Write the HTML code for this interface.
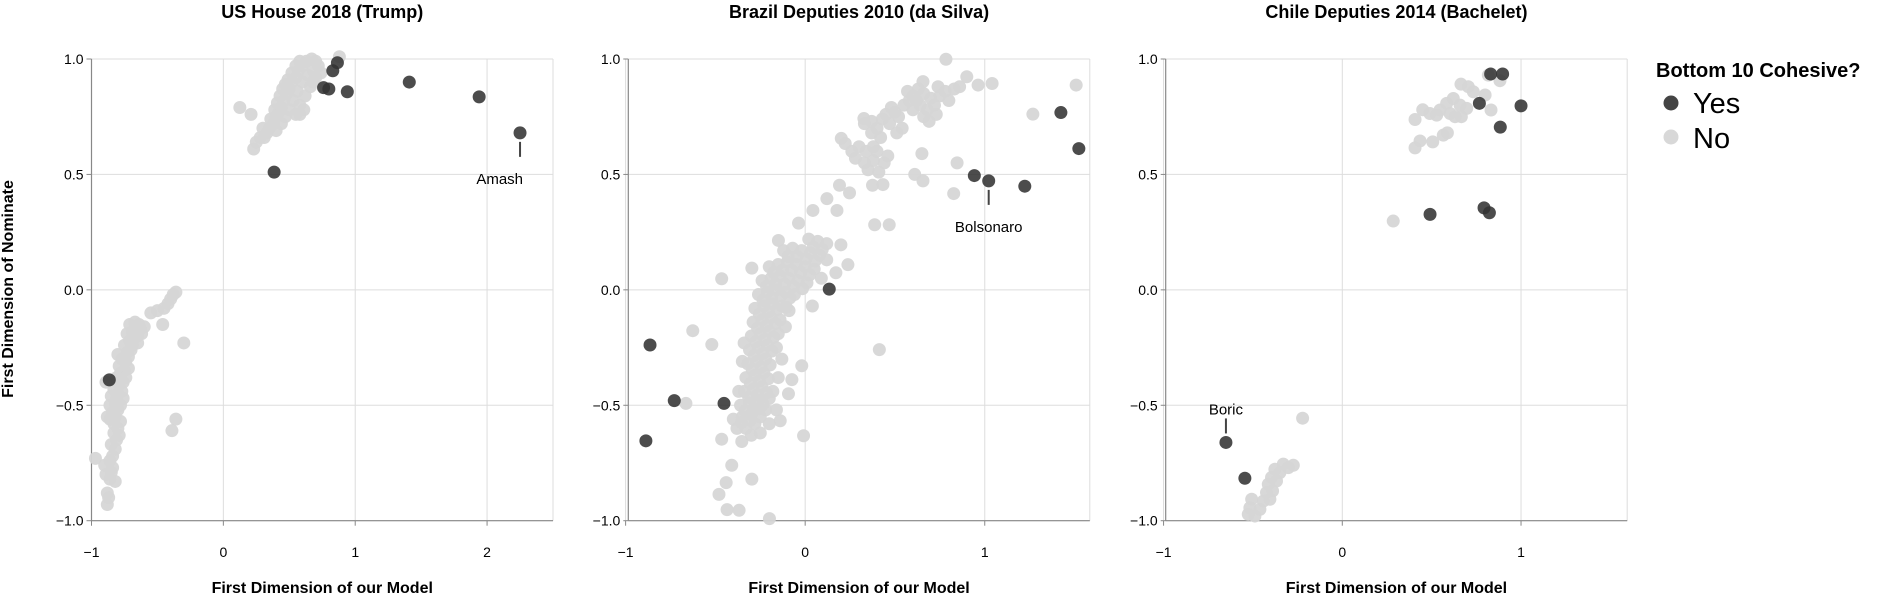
<!DOCTYPE html>
<html><head><meta charset="utf-8">
<style>
html,body{margin:0;padding:0;background:#fff;}
svg{display:block;font-family:"Liberation Sans",Arial,sans-serif;}
</style></head>
<body>
<svg id="chart" width="1892" height="596" viewBox="0 0 1892 596" xmlns="http://www.w3.org/2000/svg">
  <text x="0" y="0" transform="translate(13,289) rotate(-90)" text-anchor="middle" font-size="16" font-weight="bold" fill="#000">First Dimension of Nominate</text>
  <g>
    <text x="1656" y="77" font-size="20" font-weight="bold" fill="#000">Bottom 10 Cohesive?</text>
    <circle cx="1671" cy="103" r="7.5" fill="#444"/>
    <text x="1693" y="113" font-size="29" fill="#000">Yes</text>
    <circle cx="1671" cy="137" r="7.5" fill="#d8d8d8"/>
    <text x="1693" y="148" font-size="29" fill="#000">No</text>
  </g>
</svg>
<script>
// ---- Data ----
const panelTitles = ["US House 2018 (Trump)", "Brazil Deputies 2010 (da Silva)", "Chile Deputies 2014 (Bachelet)"];
const xTicks1 = [-1, 0, 1, 2];
const xTicks2 = [-1, 0, 1];
const xTicks3 = [-1, 0, 1];
const yTicks = [-1.0, -0.5, 0.0, 0.5, 1.0];
const yTickLabels = ["\u22121.0", "\u22120.5", "0.0", "0.5", "1.0"];

const grayUS = [[-0.88,-0.93],[-0.87,-0.90],[-0.88,-0.88],[-0.86,-0.82],[-0.85,-0.79],[-0.89,-0.80],[-0.97,-0.73],[-0.90,-0.76],[-0.86,-0.74],[-0.84,-0.72],[-0.82,-0.69],[-0.85,-0.67],[-0.81,-0.65],[-0.79,-0.63],[-0.80,-0.60],[-0.83,-0.58],[-0.86,-0.56],[-0.88,-0.55],[-0.84,-0.53],[-0.80,-0.52],[-0.86,-0.50],[-0.82,-0.49],[-0.78,-0.50],[-0.85,-0.46],[-0.80,-0.45],[-0.77,-0.44],[-0.83,-0.43],[-0.79,-0.41],[-0.76,-0.40],[-0.89,-0.40],[-0.81,-0.38],[-0.78,-0.36],[-0.75,-0.35],[-0.79,-0.33],[-0.74,-0.31],[-0.77,-0.30],[-0.80,-0.28],[-0.73,-0.27],[-0.70,-0.26],[-0.75,-0.24],[-0.71,-0.22],[-0.68,-0.21],[-0.73,-0.19],[-0.69,-0.18],[-0.66,-0.17],[-0.71,-0.15],[-0.67,-0.14],[-0.64,-0.15],[-0.60,-0.16],[-0.55,-0.10],[-0.50,-0.09],[-0.45,-0.08],[-0.42,-0.06],[-0.40,-0.04],[-0.38,-0.02],[-0.36,-0.01],[-0.46,-0.15],[-0.30,-0.23],[-0.36,-0.56],[-0.39,-0.61],[-0.65,-0.20],[-0.62,-0.19],[-0.72,-0.34],[-0.76,-0.47],[-0.83,-0.62],[-0.84,-0.77],[-0.82,-0.83],[-0.82,-0.55],[-0.78,-0.57],[-0.74,-0.38],[-0.72,-0.29],[-0.69,-0.24],[-0.65,-0.23],[-0.63,-0.17],[-0.81,-0.47],
[0.23,0.61],[0.25,0.64],[0.28,0.66],[0.31,0.66],[0.33,0.68],[0.30,0.70],[0.35,0.70],[0.38,0.72],[0.36,0.74],[0.40,0.75],[0.42,0.77],[0.39,0.78],[0.44,0.79],[0.41,0.81],[0.46,0.82],[0.43,0.84],[0.48,0.85],[0.45,0.87],[0.50,0.87],[0.47,0.89],[0.52,0.90],[0.49,0.91],[0.55,0.92],[0.52,0.94],[0.57,0.95],[0.55,0.97],[0.60,0.97],[0.58,0.99],[0.63,0.99],[0.67,1.0],[0.70,0.99],[0.72,0.97],[0.68,0.95],[0.64,0.93],[0.60,0.90],[0.56,0.86],[0.53,0.82],[0.50,0.78],[0.47,0.75],[0.44,0.72],[0.40,0.69],[0.58,0.80],[0.55,0.76],[0.62,0.84],[0.66,0.88],[0.70,0.92],[0.125,0.79],[0.21,0.76],[0.88,1.01],[0.58,0.76],[0.61,0.78],[0.74,0.94],[0.68,0.90]];
const darkUS = [[0.865,0.984],[0.83,0.949],[0.76,0.876],[0.80,0.870],[0.94,0.858],[1.41,0.90],[1.94,0.836],[2.25,0.68],[0.385,0.51],[-0.865,-0.39]];

const grayBR = [[0.784,0.999],[0.656,0.902],[0.90,0.923],[0.963,0.887],[1.041,0.894],[1.509,0.887],[1.268,0.761],[0.846,0.55],[0.827,0.417],[0.65,0.59],[0.61,0.50],[0.656,0.472],[0.387,0.282],[0.468,0.282],[0.413,-0.259],[-0.009,-0.632],[-0.019,-0.329],[-0.074,-0.389],[-0.093,-0.45],[-0.139,-0.567],[-0.465,0.048],[-0.626,-0.177],[-0.520,-0.237],[-0.664,-0.492],[-0.465,-0.647],[-0.353,-0.657],[-0.409,-0.76],[-0.297,-0.82],[-0.44,-0.835],[-0.48,-0.886],[-0.435,-0.952],[-0.368,-0.955],[-0.199,-0.991],[0.238,0.109],[0.171,0.074],[0.199,0.195],[0.043,0.344],[-0.037,0.289],[-0.149,0.214],[-0.297,0.094],[0.121,0.395],[0.177,0.344],[0.191,0.453],[0.247,0.42],[0.375,0.453],[0.433,0.456],[0.201,0.656],[0.223,0.634],[0.327,0.742],
[-0.38,-0.60],[-0.33,-0.60],[-0.28,-0.58],[-0.40,-0.56],[-0.35,-0.55],[-0.30,-0.54],[-0.25,-0.55],[-0.22,-0.52],[-0.36,-0.50],[-0.31,-0.49],[-0.26,-0.48],[-0.20,-0.47],[-0.34,-0.44],[-0.29,-0.43],[-0.24,-0.42],[-0.18,-0.44],[-0.33,-0.38],[-0.28,-0.37],[-0.23,-0.36],[-0.32,-0.32],[-0.27,-0.31],[-0.22,-0.30],[-0.31,-0.26],[-0.26,-0.25],[-0.21,-0.24],[-0.16,-0.25],[-0.30,-0.20],[-0.25,-0.19],[-0.20,-0.18],[-0.15,-0.19],[-0.29,-0.14],[-0.24,-0.13],[-0.19,-0.12],[-0.14,-0.13],[-0.28,-0.08],[-0.23,-0.07],[-0.18,-0.06],[-0.13,-0.07],[-0.09,-0.09],[-0.26,-0.02],[-0.21,-0.01],[-0.16,0.0],[-0.11,-0.01],[-0.06,-0.02],[-0.24,0.04],[-0.19,0.05],[-0.14,0.06],[-0.09,0.05],[-0.04,0.04],[0.01,0.03],[-0.20,0.10],[-0.15,0.11],[-0.10,0.12],[-0.05,0.11],[0.0,0.10],[0.05,0.09],[-0.12,0.17],[-0.07,0.18],[-0.02,0.17],[0.03,0.16],[0.08,0.15],[0.12,0.13],[0.02,0.22],[0.07,0.21],[0.12,0.20],[0.04,-0.07],[0.09,0.05],[-0.37,-0.44],[-0.35,-0.31],[-0.34,-0.23],[-0.30,-0.63],[-0.25,-0.62],[-0.20,-0.58],[-0.16,-0.52],
[-0.355,-0.575],[-0.305,-0.565],[-0.255,-0.515],[-0.335,-0.525],[-0.285,-0.515],[-0.235,-0.495],[-0.315,-0.465],[-0.265,-0.455],[-0.215,-0.445],[-0.305,-0.405],[-0.255,-0.395],[-0.205,-0.385],[-0.295,-0.345],[-0.245,-0.335],[-0.195,-0.325],[-0.285,-0.285],[-0.235,-0.275],[-0.185,-0.265],[-0.275,-0.225],[-0.225,-0.215],[-0.175,-0.205],[-0.265,-0.165],[-0.215,-0.155],[-0.165,-0.145],[-0.255,-0.105],[-0.205,-0.095],[-0.155,-0.085],[-0.105,-0.075],[-0.235,-0.045],[-0.185,-0.035],[-0.135,-0.025],[-0.085,-0.035],[-0.215,0.015],[-0.165,0.025],[-0.115,0.025],[-0.065,0.015],[-0.015,0.005],[-0.175,0.075],[-0.125,0.085],[-0.075,0.085],[-0.025,0.075],[0.025,0.065],[-0.095,0.145],[-0.045,0.145],[0.005,0.135],[0.055,0.125],[0.045,0.185],[0.095,0.175],[-0.11,-0.16],[-0.13,-0.30],[-0.15,-0.38],
[0.26,0.60],[0.30,0.62],[0.28,0.57],[0.33,0.55],[0.35,0.52],[0.38,0.56],[0.34,0.60],[0.38,0.62],[0.40,0.60],[0.42,0.66],[0.37,0.68],[0.40,0.70],[0.33,0.72],[0.37,0.73],[0.43,0.74],[0.47,0.72],[0.45,0.76],[0.50,0.77],[0.48,0.79],[0.52,0.75],[0.55,0.80],[0.58,0.82],[0.60,0.84],[0.62,0.82],[0.57,0.86],[0.63,0.87],[0.66,0.85],[0.70,0.83],[0.68,0.78],[0.66,0.75],[0.72,0.80],[0.75,0.84],[0.78,0.86],[0.80,0.82],[0.83,0.87],[0.86,0.88],[0.74,0.88],[0.54,0.70],[0.51,0.68],[0.44,0.55],[0.41,0.51],[0.46,0.58],[0.60,0.78],[0.64,0.80],[0.69,0.73],[0.73,0.76]];
const darkBR = [[-0.864,-0.239],[-0.729,-0.48],[-0.452,-0.492],[-0.887,-0.654],[0.134,0.003],[0.942,0.495],[1.022,0.472],[1.223,0.449],[1.424,0.768],[1.524,0.612]];

const grayCL = [[0.407,0.738],[0.45,0.78],[0.435,0.645],[0.407,0.615],[0.506,0.641],[0.565,0.67],[0.588,0.68],[0.49,0.764],[0.547,0.779],[0.584,0.808],[0.621,0.829],[0.659,0.80],[0.666,0.75],[0.696,0.786],[0.664,0.891],[0.705,0.88],[0.733,0.858],[0.799,0.844],[0.832,0.779],[0.882,0.906],[0.817,0.93],[0.528,0.757],[0.603,0.764],[0.631,0.75],[0.285,0.298],
[-0.222,-0.556],[-0.274,-0.76],[-0.33,-0.755],[-0.377,-0.777],[-0.396,-0.813],[-0.414,-0.842],[-0.424,-0.878],[-0.442,-0.915],[-0.461,-0.951],[-0.489,-0.98],[-0.526,-0.972],[-0.507,-0.907],[-0.517,-0.944],[-0.349,-0.792],[-0.368,-0.828],[-0.39,-0.871],[-0.405,-0.907],[-0.302,-0.77]];
const darkCL = [[0.83,0.935],[0.897,0.935],[0.767,0.808],[1.0,0.797],[0.884,0.705],[0.491,0.327],[0.793,0.355],[0.823,0.334],[-0.651,-0.661],[-0.545,-0.816]];

const labelNames = ["Amash", "Bolsonaro", "Boric"];
const labelPoints = [[2.25,0.68],[1.022,0.472],[-0.651,-0.661]];

// ---- Layout ----
const NS = "http://www.w3.org/2000/svg";
const svg = document.getElementById("chart");
const panels = [
  {left:91.5, xmin:-1, xmax:2.5, ticks:xTicks1, gray:grayUS, dark:darkUS, label:0, below:true, slug:"us-house"},
  {left:628.3, xmin:-0.985, xmax:1.585, ticks:xTicks2, gray:grayBR, dark:darkBR, label:1, below:true, slug:"brazil"},
  {left:1165.7, xmin:-0.988, xmax:1.594, ticks:xTicks3, gray:grayCL, dark:darkCL, label:2, below:false, slug:"chile"}
];
const W = 461.5, TOP = 59, BOT = 520.7;
function mk(tag, attrs, parent){const e=document.createElementNS(NS,tag);for(const k in attrs)e.setAttribute(k,attrs[k]);(parent||svg).appendChild(e);return e;}
function yScale(v){return BOT - (v + 1) / 2 * (BOT - TOP);}

panels.forEach((p, i) => {
  const xs = v => p.left + (v - p.xmin) / (p.xmax - p.xmin) * W;
  const g = mk("g", {});
  
  
  p.ticks.forEach(t => {
    const l = mk("line", {x1:xs(t), x2:xs(t), y1:TOP, y2:BOT, stroke:"#ddd", "stroke-width":1}, g);
    
    
  });
  yTicks.forEach(t => {
    const l = mk("line", {x1:p.left, x2:p.left+W, y1:yScale(t), y2:yScale(t), stroke:"#ddd", "stroke-width":1}, g);
    
    
  });
  const rb = mk("line", {x1:p.left+W, x2:p.left+W, y1:TOP, y2:BOT, stroke:"#ddd", "stroke-width":1}, g);
  
  
  const xa = mk("line", {x1:p.left, x2:p.left+W, y1:BOT, y2:BOT, stroke:"#888", "stroke-width":1.2}, g);
  
  
  const ya = mk("line", {x1:p.left, x2:p.left, y1:TOP, y2:BOT, stroke:"#888", "stroke-width":1.2}, g);
  
  
  p.ticks.forEach(t => {
    const tk = mk("line", {x1:xs(t), x2:xs(t), y1:BOT, y2:BOT+5, stroke:"#888", "stroke-width":1}, g);
    
    
    const tl = mk("text", {x:xs(t), y:557, "text-anchor":"middle", "font-size":14, fill:"#000"}, g);
    
    
    tl.textContent = t < 0 ? "\u2212" + Math.abs(t) : String(t);
  });
  yTicks.forEach((t, j) => {
    const tk = mk("line", {x1:p.left-5, x2:p.left, y1:yScale(t), y2:yScale(t), stroke:"#888", "stroke-width":1}, g);
    
    
    const tl = mk("text", {x:p.left-8, y:yScale(t)+5, "text-anchor":"end", "font-size":14, fill:"#000"}, g);
    
    
    tl.textContent = yTickLabels[j];
  });
  const tt = mk("text", {x:p.left+W/2, y:18, "text-anchor":"middle", "font-size":18, "font-weight":"bold", fill:"#000"}, g);
  
  
  tt.textContent = panelTitles[i];
  const xt = mk("text", {x:p.left+W/2, y:593, "text-anchor":"middle", "font-size":16, "font-weight":"bold", fill:"#000"}, g);
  
  
  xt.textContent = "First Dimension of our Model";
  p.gray.forEach(d => {
    const c = mk("circle", {cx:xs(d[0]), cy:yScale(d[1]), r:6.5, fill:"#d6d6d6", "fill-opacity":0.95}, g);
    
    
  });
  p.dark.forEach(d => {
    const c = mk("circle", {cx:xs(d[0]), cy:yScale(d[1]), r:6.5, fill:"#333", "fill-opacity":0.88}, g);
    
    
  });
  const lp = labelPoints[p.label];
  const px = xs(lp[0]), py = yScale(lp[1]);
  const ln = mk("line", {x1:px, x2:px, y1:p.below?py+9:py-9, y2:p.below?py+24:py-24, stroke:"#444", "stroke-width":2}, g);
  
  
  const anchor = p.label === 0 ? "end" : "middle";
  const ax = p.label === 0 ? px + 3 : px;
  const at = mk("text", {x:ax, y:p.below?py+51:py-28, "text-anchor":anchor, "font-size":15, fill:"#000"}, g);
  
  
  at.textContent = labelNames[p.label];
});
</script>
</body></html>
